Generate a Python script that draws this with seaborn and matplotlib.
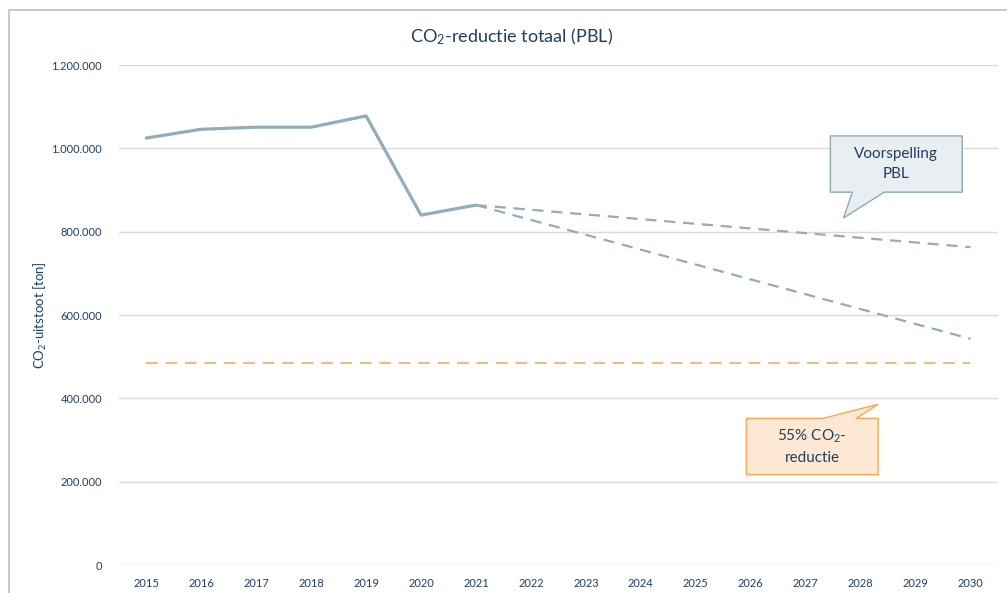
"""
CO2-reductie totaal (PBL) - line chart with forecast and target
"""

import matplotlib
matplotlib.use("Agg")
import matplotlib.pyplot as plt
import matplotlib.ticker as mticker
from matplotlib.patches import Polygon, Rectangle
import pandas as pd
import seaborn as sns

# Data
years = [2015, 2016, 2017, 2018, 2019, 2020, 2021]
emission = [1025000, 1046000, 1051000, 1051000, 1078000, 840000, 864000]

forecast_years = [2021, 2030]
forecast_pbl = [864000, 763000]
forecast_steep = [864000, 543000]

target_years = [2015, 2030]
target = [485000, 485000]

all_years = list(range(2015, 2031))
y_ticks = [0, 200000, 400000, 600000, 800000, 1000000, 1200000]

TEXT = "#1F3F5F"
LINE = "#92ACBA"
ORANGE = "#F6B877"

sns.set_style("white")
plt.rcParams["font.family"] = ["Lato", "DejaVu Sans"]
plt.rcParams["mathtext.fontset"] = "custom"
plt.rcParams["mathtext.rm"] = "Lato"
plt.rcParams["mathtext.it"] = "Lato"

fig = plt.figure(figsize=(10.07, 5.93), dpi=100)
ax = fig.add_axes([0.118, 0.0472, 0.873, 0.843])

df = pd.DataFrame({"year": years, "value": emission})
sns.lineplot(data=df, x="year", y="value", ax=ax, color=LINE, linewidth=2.3)

for vals in (forecast_pbl, forecast_steep):
    fdf = pd.DataFrame({"year": forecast_years, "value": vals})
    sns.lineplot(data=fdf, x="year", y="value", ax=ax, color=LINE,
                 linewidth=1.6, linestyle=(0, (5, 3.5)))

tdf = pd.DataFrame({"year": target_years, "value": target})
sns.lineplot(data=tdf, x="year", y="value", ax=ax, color=ORANGE,
             linewidth=1.4, linestyle=(0, (6, 4)))

ax.set_xlim(2014.5, 2030.5)
ax.set_ylim(0, 1200000)
ax.set_xticks(all_years)
ax.set_yticks(y_ticks)
ax.yaxis.set_major_formatter(mticker.FuncFormatter(
    lambda v, _: f"{int(v):,}".replace(",", ".")))
ax.tick_params(axis="both", length=0, labelsize=8, colors=TEXT)
ax.tick_params(axis="x", pad=9)
ax.tick_params(axis="y", pad=12)
ax.grid(axis="y", color="#DADADA", linewidth=1)
ax.set_axisbelow(True)
for s in ax.spines.values():
    s.set_visible(False)
ax.set_xlabel("")
ax.set_ylabel(r"CO$_2$-uitstoot [ton]", fontsize=9.5, color=TEXT, labelpad=2)

fig.text(0.508, 0.938, r"CO$_2$-reductie totaal (PBL)", ha="center",
         va="center", fontsize=13, color=TEXT)


def callout(x0, x1, y0, y1, tip, base, face, edge, text):
    # box with a wedge pointer, coords in data space
    bx0, bx1 = base
    if tip[1] < y0:
        pts = [(x0, y1), (x1, y1), (x1, y0), (bx1, y0), tip, (bx0, y0), (x0, y0)]
    else:
        pts = [(x0, y0), (x1, y0), (x1, y1), (bx1, y1), tip, (bx0, y1), (x0, y1)]
    ax.add_patch(Polygon(pts, closed=True, facecolor=face, edgecolor=edge,
                         linewidth=1, zorder=5))
    ax.text((x0 + x1) / 2, (y0 + y1) / 2, text, ha="center", va="center",
            fontsize=11, color=TEXT, zorder=6, linespacing=1.5)


callout(2027.45, 2029.85, 895000, 1030000, (2027.69, 833000), (2027.85, 2028.43),
        "#E8EEF2", "#8FA9B8", "Voorspelling\nPBL")
callout(2025.92, 2028.32, 217000, 352000, (2028.32, 386000), (2027.32, 2027.92),
        "#FDE8D3", "#F4A955", "55% CO$_2$-\nreductie")

# outer chart border
fig.patches.append(Rectangle((9 / 1007, -0.05), 1.2, (593 - 10) / 593 + 0.05,
                             transform=fig.transFigure, fill=False,
                             edgecolor="#BFBFBF", linewidth=1.2))

fig.savefig("out.png", dpi=100)
plt.close(fig)
